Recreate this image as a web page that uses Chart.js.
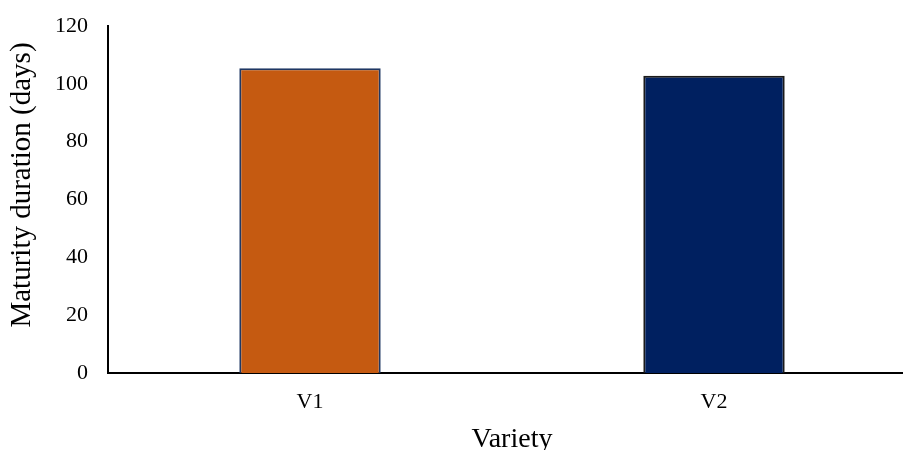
<!DOCTYPE html>
<html>
<head>
<meta charset="utf-8">
<script src="https://cdn.jsdelivr.net/npm/chart.js@4"></script>
<style>
  html, body { margin: 0; padding: 0; background: #ffffff; overflow: hidden; }
  #wrap { position: relative; width: 916px; height: 470px; }
</style>
</head>
<body>
<div id="wrap"><canvas id="c"></canvas></div>
<script>
const categories = ['V1', 'V2'];
const maturityDays = [105.4, 102.8];
const barColors = ['#C55A11', '#002060'];
const barBorders = ['#1F3864', '#1a1a1a'];
const yTicks = [0, 20, 40, 60, 80, 100, 120];
const xTitle = 'Variety';
const yTitle = 'Maturity duration (days)';

const serif = "'Liberation Serif', 'Times New Roman', serif";

new Chart(document.getElementById('c'), {
  type: 'bar',
  data: {
    labels: categories,
    datasets: [{
      data: maturityDays,
      backgroundColor: barColors,
      borderColor: barBorders,
      borderWidth: 2,
      barPercentage: 0.35,
      categoryPercentage: 1.0
    }]
  },
  options: {
    responsive: true,
    maintainAspectRatio: false,
    animation: false,
    devicePixelRatio: 1,
    layout: { padding: { top: 26, right: 0, bottom: 0, left: 0 } },
    plugins: { legend: { display: false }, tooltip: { enabled: false } },
    scales: {
      x: {
        grid: { display: false, drawTicks: false },
        border: { display: true, color: '#000000', width: 2 },
        ticks: { color: '#000000', font: { family: serif, size: 22 }, padding: 16 },
        title: { display: true, text: xTitle, color: '#000000', font: { family: serif, size: 28, lineHeight: 1.2 }, padding: { top: 0, bottom: 14 } },
        afterFit: (s) => { s.height = 97; s.paddingLeft = 0; s.paddingRight = 0; }
      },
      y: {
        min: 0, max: 120,
        afterBuildTicks: (s) => { s.ticks = yTicks.map(v => ({ value: v })); },
        grid: { display: false, drawTicks: false },
        border: { display: true, color: '#000000', width: 2 },
        ticks: { color: '#000000', font: { family: serif, size: 22 }, padding: 20 },
        title: { display: true, text: '    ' + yTitle, color: '#000000', font: { family: serif, size: 29, lineHeight: 1.2 }, padding: { top: 5, bottom: 0 } },
        afterFit: (s) => { s.width = 108; s.paddingTop = 0; s.paddingBottom = 0; }
      }
    }
  }
});
</script>
</body>
</html>
